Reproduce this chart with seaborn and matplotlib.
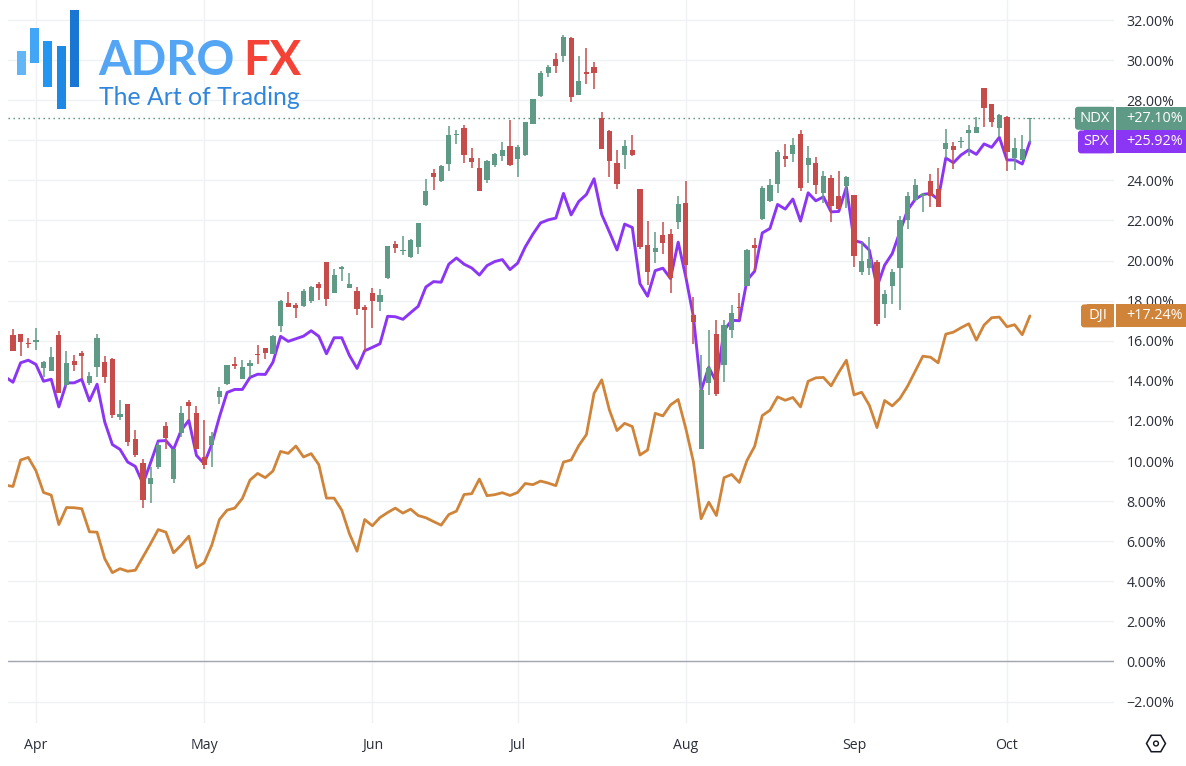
import numpy as np
import pandas as pd
import matplotlib
matplotlib.use('Agg')
import matplotlib.pyplot as plt
from matplotlib.patches import Rectangle, FancyBboxPatch, RegularPolygon, Circle
import seaborn as sns

# NDX candles, percent change, one value per trading day
ndx_open = [16.27, 16.33, 15.9, 15.95, 14.63, 14.5, 16.28, 13.78, 14.98, 15.37,
            13.9, 14.7, 14.93, 15.1, 12.2, 12.82, 11.08, 9.92, 8.83, 9.7,
            11.73, 9.1, 11.4, 12.93, 12.38, 10.22, 10.8, 13.2, 13.83, 14.83,
            14.1, 14.75, 15.32, 15.63, 15.32, 16.73, 17.9, 17.8, 17.72, 17.97,
            18.82, 19.92, 18.4, 19.58, 18.63, 18.48, 17.67, 18.4, 17.93, 19.15,
            20.85, 20.48, 20.17, 20.68, 22.78, 24.35, 23.98, 24.82, 26.28, 26.6,
            25.1, 24.63, 24.0, 24.75, 25.2, 25.7, 25.07, 25.25, 26.82, 28.23,
            29.35, 30.07, 30.23, 31.1, 28.28, 29.42, 29.67, 27.1, 26.47, 24.85,
            25.27, 25.5, 23.57, 20.77, 20.42, 21.3, 21.32, 21.93, 22.88, 17.3,
            10.6, 13.9, 16.33, 14.8, 16.53, 17.67, 18.73, 20.8, 22.07, 22.98,
            23.83, 25.22, 25.32, 26.3, 24.77, 24.85, 23.38, 24.12, 23.22, 23.72,
            23.28, 19.43, 19.63, 19.92, 17.83, 18.73, 19.63, 22.03, 23.02, 23.23,
            23.95, 23.55, 25.58, 25.7, 25.92, 26.35, 26.35, 28.6, 27.82, 26.63,
            27.17, 25.13, 25.02, 27.05]
ndx_high = [16.58, 16.33, 16.12, 16.65, 15.0, 15.68, 16.47, 15.47, 15.28, 15.48,
            14.43, 16.33, 15.23, 15.13, 13.03, 12.82, 11.57, 10.1, 9.7, 10.95,
            11.97, 10.62, 12.73, 13.03, 12.73, 12.07, 11.45, 13.7, 14.78, 15.17,
            15.03, 15.03, 15.78, 15.63, 16.3, 18.02, 18.42, 17.9, 18.6, 18.75,
            18.95, 19.92, 19.57, 19.72, 19.37, 18.67, 17.8, 18.65, 18.6, 20.73,
            20.97, 21.23, 21.07, 21.85, 24.05, 24.55, 24.75, 26.7, 26.5, 26.75,
            25.6, 25.1, 25.03, 25.35, 25.92, 27.0, 25.75, 26.93, 28.07, 29.47,
            29.77, 30.35, 31.27, 31.13, 30.23, 30.6, 29.92, 27.4, 26.52, 25.52,
            26.02, 26.27, 23.57, 21.97, 21.43, 21.93, 21.57, 23.2, 23.97, 18.17,
            15.27, 16.52, 17.02, 17.02, 17.77, 18.4, 20.58, 21.15, 23.72, 24.08,
            25.5, 25.82, 26.13, 26.52, 25.73, 25.15, 24.45, 24.25, 24.48, 24.22,
            23.28, 20.93, 21.17, 20.05, 18.55, 19.57, 22.22, 23.42, 24.07, 23.35,
            24.32, 24.6, 26.55, 25.9, 26.18, 26.75, 27.15, 28.6, 27.82, 27.3,
            27.2, 26.1, 26.27, 27.13]
ndx_low = [15.48, 15.25, 15.63, 15.53, 14.17, 14.5, 13.4, 13.67, 14.5, 14.07,
           13.77, 14.2, 13.9, 12.15, 12.03, 10.75, 10.2, 7.67, 7.9, 9.6,
           10.58, 8.92, 11.2, 12.03, 10.58, 9.62, 9.7, 12.83, 13.78, 14.58,
           14.07, 14.2, 14.82, 15.08, 15.32, 16.45, 17.68, 17.12, 17.68, 17.9,
           18.02, 17.72, 18.4, 18.97, 18.63, 17.27, 15.43, 16.63, 17.48, 19.08,
           20.37, 20.27, 20.15, 20.32, 22.73, 23.5, 23.92, 24.47, 25.82, 24.87,
           24.62, 23.48, 23.87, 24.67, 24.95, 24.72, 24.15, 25.22, 26.82, 28.17,
           29.18, 29.35, 29.93, 27.92, 28.28, 28.82, 28.58, 25.58, 24.18, 23.58,
           24.58, 25.23, 20.57, 18.77, 19.88, 20.35, 18.4, 21.57, 19.1, 15.85,
           10.6, 13.28, 13.22, 13.93, 16.15, 17.02, 18.73, 19.47, 22.03, 22.93,
           23.37, 24.68, 24.93, 23.48, 23.88, 23.3, 22.85, 21.93, 22.55, 22.6,
           19.68, 19.3, 19.3, 16.72, 17.15, 17.83, 17.55, 21.58, 22.98, 22.42,
           22.68, 22.65, 25.1, 24.57, 25.63, 25.23, 26.35, 26.68, 26.68, 26.15,
           24.48, 24.52, 25.02, 25.85]
ndx_close = [15.48, 15.95, 15.85, 16.03, 14.93, 15.18, 13.4, 14.87, 14.8, 15.25,
             14.23, 16.13, 14.2, 12.3, 12.33, 10.95, 10.32, 8.05, 9.13, 10.78,
             11.15, 10.58, 12.38, 12.75, 10.62, 9.82, 11.27, 13.48, 14.78, 14.72,
             14.7, 14.88, 15.27, 15.4, 16.23, 17.98, 17.68, 17.62, 18.47, 18.68,
             18.63, 18.1, 19.27, 19.67, 18.85, 17.58, 17.55, 17.98, 18.3, 20.73,
             20.62, 20.55, 21.02, 21.85, 23.47, 24.15, 24.7, 26.25, 26.33, 25.27,
             24.93, 23.48, 24.95, 25.3, 25.52, 24.78, 25.65, 26.93, 28.07, 29.35,
             29.67, 29.73, 31.17, 28.18, 28.97, 29.33, 29.38, 25.58, 24.98, 23.83,
             25.73, 25.28, 20.68, 19.43, 20.65, 20.88, 19.15, 22.8, 19.8, 16.93,
             13.52, 14.65, 13.32, 16.8, 17.4, 17.63, 20.55, 20.65, 23.62, 23.75,
             25.43, 25.08, 25.77, 23.6, 25.1, 23.77, 24.22, 22.73, 22.55, 24.17,
             20.23, 20.0, 20.07, 16.82, 18.35, 19.42, 22.02, 23.22, 23.77, 23.32,
             23.23, 22.68, 25.85, 25.53, 25.97, 26.5, 26.68, 27.62, 26.93, 27.27,
             25.43, 25.6, 25.57, 27.1]

# line series start one day earlier than the first full candle
spx = [14.2, 13.93, 14.9, 15.03, 14.82, 13.98, 14.08, 12.7, 13.9, 13.9,
       14.07, 13.0, 13.83, 11.95, 10.82, 10.58, 9.95, 9.73, 8.87, 9.92,
       11.0, 11.02, 10.58, 11.53, 12.03, 10.28, 9.87, 10.83, 12.2, 13.42,
       13.57, 13.57, 14.17, 14.33, 14.32, 14.93, 16.22, 15.97, 16.1, 16.23,
       16.5, 16.22, 15.35, 16.15, 16.15, 15.27, 14.62, 15.5, 15.67, 15.85,
       17.22, 17.2, 17.07, 17.4, 17.72, 18.68, 18.95, 18.92, 19.82, 20.13,
       19.82, 19.63, 19.28, 19.75, 19.95, 20.05, 19.55, 19.87, 20.68, 21.32,
       21.88, 22.03, 22.12, 23.35, 22.28, 22.95, 23.3, 24.08, 22.3, 21.43,
       20.53, 21.82, 21.65, 18.85, 18.22, 19.5, 19.62, 19.1, 20.92, 19.18,
       17.18, 13.52, 14.68, 13.93, 16.52, 17.02, 17.0, 19.02, 19.47, 21.38,
       21.6, 22.8, 22.57, 23.07, 21.97, 23.38, 22.98, 23.18, 22.43, 22.45,
       23.66, 21.0, 20.9, 20.52, 18.68, 19.77, 20.35, 21.43, 22.52, 23.05,
       23.3, 23.35, 23.05, 25.12, 24.88, 25.27, 25.52, 25.3, 25.82, 25.65,
       26.15, 25.02, 25.02, 24.82, 25.92]
dji = [8.8, 8.73, 10.05, 10.18, 9.52, 8.43, 8.3, 6.83, 7.68, 7.67,
       7.62, 6.47, 6.45, 5.13, 4.43, 4.63, 4.5, 4.55, 5.22, 5.88,
       6.58, 6.45, 5.42, 5.8, 6.25, 4.68, 4.92, 5.8, 7.08, 7.55,
       7.65, 8.13, 9.05, 9.38, 9.17, 9.5, 10.48, 10.38, 10.75, 10.2,
       10.37, 9.82, 8.15, 8.15, 7.55, 6.38, 5.5, 7.08, 6.77, 7.18,
       7.43, 7.65, 7.4, 7.6, 7.28, 7.17, 6.98, 6.8, 7.33, 7.5,
       8.33, 8.37, 9.1, 8.27, 8.32, 8.42, 8.28, 8.43, 8.88, 8.82,
       9.0, 8.9, 8.77, 9.95, 10.05, 10.77, 11.32, 13.38, 14.05, 12.55,
       11.52, 11.88, 11.72, 10.3, 10.55, 12.38, 12.25, 12.8, 13.07, 11.62,
       9.95, 7.12, 7.95, 7.28, 9.17, 9.33, 8.93, 10.03, 10.73, 12.27,
       12.53, 13.2, 13.03, 13.17, 12.7, 13.98, 14.15, 14.17, 13.75, 14.42,
       15.03, 13.3, 13.43, 12.78, 11.67, 13.02, 12.75, 13.12, 13.73, 14.48,
       15.23, 15.18, 14.9, 16.33, 16.43, 16.65, 16.85, 16.03, 16.78, 17.15,
       17.18, 16.7, 16.8, 16.3, 17.24]

month_labels = ['Apr', 'May', 'Jun', 'Jul', 'Aug', 'Sep', 'Oct']
month_starts = [3, 25, 47, 66, 88, 110, 130]
y_ticks = list(range(-2, 33, 2))

GREEN = '#5f9a86'
RED = '#c64c4c'
PURPLE = '#8b35f5'
ORANGE = '#cf8439'
GRID = '#eff1f4'
TEXT = '#2a2e39'

sns.set_theme(style='white')
plt.rcParams['font.family'] = ['Open Sans', 'DejaVu Sans']

W, H = 1186, 766
fig = plt.figure(figsize=(W / 100, H / 100), dpi=100)
ax = fig.add_axes([8 / W, 1 - 723 / H, 1106 / W, 723 / H])

candles = pd.DataFrame({'o': ndx_open, 'h': ndx_high, 'l': ndx_low, 'c': ndx_close})
candles['x'] = np.arange(len(candles))
candles['color'] = np.where(candles.c >= candles.o, GREEN, RED)

lines = pd.DataFrame({'x': np.arange(-1, len(spx) - 1), 'SPX': spx, 'DJI': dji})

# the 26% label sits behind the price tags in the original
tick_text = ['' if t == 26 else f'{t:.2f}%'.replace('-', '\u2212') for t in y_ticks]

ax.set_axisbelow(True)
ax.set_xticks(month_starts, month_labels)
ax.set_yticks(y_ticks, tick_text)
ax.grid(True, color=GRID, lw=1.0)
ax.axhline(0, color='#a3a6af', lw=1.0, zorder=1)
ax.axhline(ndx_close[-1], xmax=(1075 - 8) / 1106, color='#4f8a78', lw=1.0, ls=(0, (1, 2.6)), zorder=1)

sns.lineplot(data=lines, x='x', y='DJI', color=ORANGE, lw=2.0, ax=ax, zorder=2)
sns.lineplot(data=lines, x='x', y='SPX', color=PURPLE, lw=2.1, ax=ax, zorder=3)

ax.vlines(candles.x, candles.l, candles.h, colors=candles.color, lw=1.1, zorder=4)
ax.bar(candles.x, (candles.c - candles.o).abs(), bottom=candles[['o', 'c']].min(axis=1),
       width=0.68, color=candles.color, zorder=5, lw=0)

ax.set_xlim(-0.65, 144.0)
ax.set_ylim(-3.07, 33.0)
ax.set_xlabel('')
ax.set_ylabel('')
sns.despine(ax=ax, left=True, bottom=True, top=True, right=True)
ax.yaxis.tick_right()
ax.tick_params(axis='both', length=0, labelsize=10.2, labelcolor=TEXT)
ax.tick_params(axis='y', pad=9)
ax.tick_params(axis='x', pad=11)

# overlay in pixels for the logo, price tags and the settings icon
ov = fig.add_axes([0, 0, 1, 1], facecolor='none')
ov.set_xlim(0, W)
ov.set_ylim(H, 0)
ov.axis('off')


def ypx(value):
    return H - ax.transData.transform((0, value))[1]


tags = [('NDX', ndx_close[-1], GREEN, 1075), ('SPX', spx[-1], PURPLE, 1078), ('DJI', dji[-1], ORANGE, 1081)]
for name, value, color, left in tags:
    yc = ypx(value)
    ov.add_patch(FancyBboxPatch((left, yc - 11.5), 1114 - left, 23, boxstyle='round,pad=0,rounding_size=3',
                                fc=color, ec='none'))
    ov.add_patch(Rectangle((left + 6, yc - 11.5), 1114 - left - 6, 23, fc=color, ec='none'))
    ov.add_patch(Rectangle((1116, yc - 11.5), 70, 23, fc=color, ec='none'))
    ov.text((left + 1114) / 2, yc, name, color='white', fontsize=10.6, ha='center', va='center')
    ov.text(1155, yc, f'+{value:.2f}%', color='white', fontsize=10.4, ha='center', va='center')

# logo
bars = [(17, 51, 8.7, 24, '#64b5f6'), (30, 28, 9, 35, '#42a5f5'), (43, 41, 9, 46, '#2196f3'),
        (57, 46, 9, 63, '#1e88e5'), (70, 10, 9, 77, '#1976d2')]
for bx, by, bw, bh, bc in bars:
    ov.add_patch(Rectangle((bx, by), bw, bh, fc=bc, ec='none'))
ov.text(98, 75, 'ADRO', color='#54a6f5', fontsize=33.8, fontfamily='Lato', fontweight='bold', ha='left', va='baseline')
ov.text(243, 75, 'FX', color='#f44336', fontsize=33.8, fontfamily='Lato', fontweight='bold', ha='left', va='baseline')
ov.text(99, 105, 'The Art of Trading', color='#2f86dc', fontsize=17.8, fontfamily='Lato', fontweight='regular', ha='left', va='baseline')

# settings icon
ov.add_patch(RegularPolygon((1156, 743.5), 6, radius=9.5, orientation=np.pi / 6, fc='none', ec='#131722', lw=1.1))
ov.add_patch(Circle((1156, 743.5), 2.4, fc='none', ec='#131722', lw=1.0))

fig.savefig('out.png', dpi=100)
